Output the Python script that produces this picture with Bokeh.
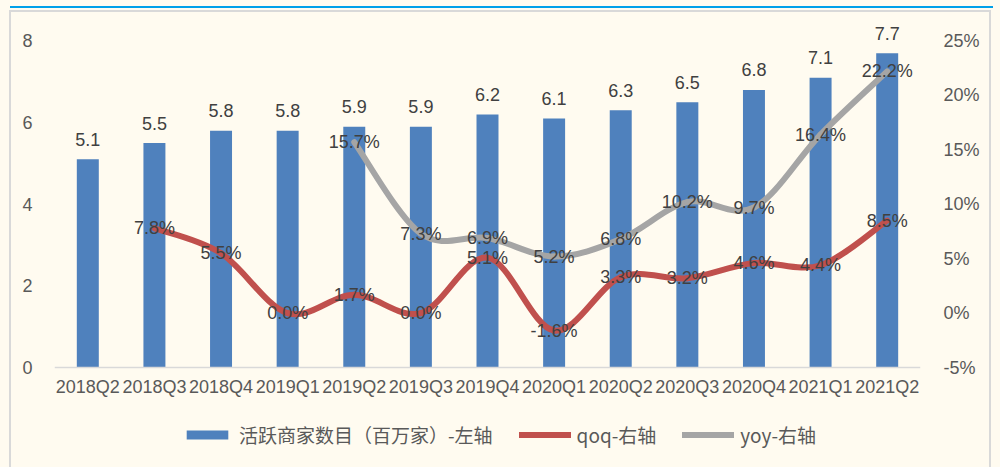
from bokeh.plotting import figure
from bokeh.models import (ColumnDataSource, Range1d, LinearAxis, FixedTicker,
                          Legend, LegendItem, PrintfTickFormatter)
from bokeh.core.properties import value
from bokeh.embed import file_html
from bokeh.resources import INLINE

# ---------------- data ----------------
quarters = ["2018Q2", "2018Q3", "2018Q4", "2019Q1", "2019Q2", "2019Q3", "2019Q4",
            "2020Q1", "2020Q2", "2020Q3", "2020Q4", "2021Q1", "2021Q2"]
merchants = [5.1, 5.5, 5.8, 5.8, 5.9, 5.9, 6.2, 6.1, 6.3, 6.5, 6.8, 7.1, 7.7]
qoq_quarters = quarters[1:]
qoq = [7.8, 5.5, 0.0, 1.7, 0.0, 5.1, -1.6, 3.3, 3.2, 4.6, 4.4, 8.5]
yoy_quarters = quarters[4:]
yoy = [15.7, 7.3, 6.9, 5.2, 6.8, 10.2, 9.7, 16.4, 22.2]
left_ticks = [0, 2, 4, 6, 8]
right_ticks = [-5, 0, 5, 10, 15, 20, 25]
legend_labels = ["活跃商家数目（百万家）-左轴", "qoq-右轴", "yoy-右轴"]

# ---------------- styles ----------------
BG = "#FFFBF0"
BLUE = "#4F81BD"
RED = "#C0504D"
GRAY = "#A5A5A5"
TXT = "#595959"
LBL = "#404040"
FONT = "Liberation Sans"

pos = {q: i for i, q in enumerate(quarters)}
bar_x = [pos[q] for q in quarters]
qoq_x = [pos[q] for q in qoq_quarters]
yoy_x = [pos[q] for q in yoy_quarters]

# vertical scale: left 0..8 maps onto right -5%..25%
left_top, left_bottom = 8.5, -2.275
k = (right_ticks[-1] - right_ticks[0]) / left_ticks[-1]
right_range = (right_ticks[0] + k * left_bottom, right_ticks[0] + k * left_top)

p = figure(width=1000, height=467, output_backend="svg", toolbar_location=None,
           x_range=Range1d(-0.5, len(quarters) - 0.5),
           y_range=Range1d(left_bottom, left_top),
           min_border_left=54, min_border_right=80, min_border_top=20,
           min_border_bottom=7,
           background_fill_color=BG, border_fill_color=BG, outline_line_color=None)
p.extra_y_ranges = {"right": Range1d(*right_range)}
p.grid.visible = False

# axes
p.xaxis.fixed_location = 0
p.xaxis.ticker = FixedTicker(ticks=bar_x)
p.xaxis.major_label_overrides = {i: q for i, q in enumerate(quarters)}
p.xaxis.axis_line_color = "#D9D9D9"
p.xaxis.axis_line_width = 1.5
p.xaxis.major_tick_line_color = None
p.xaxis.minor_tick_line_color = None
p.xaxis.major_label_standoff = 3
p.xaxis.major_label_text_font = FONT
p.xaxis.major_label_text_font_size = "18px"
p.xaxis.major_label_text_color = TXT

p.yaxis.ticker = FixedTicker(ticks=left_ticks)
p.yaxis.axis_line_color = None
p.yaxis.major_tick_line_color = None
p.yaxis.minor_tick_line_color = None
p.yaxis.major_label_standoff = 16
p.yaxis.major_label_text_font = FONT
p.yaxis.major_label_text_font_size = "18px"
p.yaxis.major_label_text_color = TXT

ry = LinearAxis(y_range_name="right", ticker=FixedTicker(ticks=right_ticks),
                formatter=PrintfTickFormatter(format="%d%%"))
ry.axis_line_color = None
ry.major_tick_line_color = None
ry.minor_tick_line_color = None
ry.major_label_standoff = 17
ry.major_label_text_font = FONT
ry.major_label_text_font_size = "18px"
ry.major_label_text_color = TXT
p.add_layout(ry, "right")

# bars
bar_src = ColumnDataSource(dict(x=bar_x, top=merchants,
                                lab=["%.1f" % v for v in merchants]))
bars = p.vbar(x="x", top="top", width=0.33, bottom=0, source=bar_src,
              fill_color=BLUE, line_color=None)


def smooth(xs, ys):
    """Excel-like smoothed line as cubic Bezier segments through the data points."""
    n = len(xs)
    d = dict(x0=[], y0=[], x1=[], y1=[], cx0=[], cy0=[], cx1=[], cy1=[])
    for i in range(n - 1):
        a = max(i - 1, 0)
        b = min(i + 2, n - 1)
        d["x0"].append(xs[i]); d["y0"].append(ys[i])
        d["x1"].append(xs[i + 1]); d["y1"].append(ys[i + 1])
        d["cx0"].append(xs[i] + (xs[i + 1] - xs[a]) / 6.0)
        d["cy0"].append(ys[i] + (ys[i + 1] - ys[a]) / 6.0)
        d["cx1"].append(xs[i + 1] - (xs[b] - xs[i]) / 6.0)
        d["cy1"].append(ys[i + 1] - (ys[b] - ys[i]) / 6.0)
    return ColumnDataSource(d)


qoq_line = p.bezier(x0="x0", y0="y0", x1="x1", y1="y1", cx0="cx0", cy0="cy0",
                    cx1="cx1", cy1="cy1", source=smooth(qoq_x, qoq),
                    y_range_name="right", line_color=RED, line_width=6,
                    line_cap="round")
yoy_line = p.bezier(x0="x0", y0="y0", x1="x1", y1="y1", cx0="cx0", cy0="cy0",
                    cx1="cx1", cy1="cy1", source=smooth(yoy_x, yoy),
                    y_range_name="right", line_color=GRAY, line_width=6,
                    line_cap="round")

# data labels
p.text(x="x", y="top", text="lab", source=bar_src, text_align="center",
       text_baseline="middle", y_offset=-20, text_font=value(FONT),
       text_font_size="18px", text_color=LBL)
p.text(x=qoq_x, y=qoq, text=["%.1f%%" % v for v in qoq], y_range_name="right",
       text_align="center", text_baseline="middle", text_font=value(FONT),
       text_font_size="18px", text_color=LBL)
p.text(x=yoy_x, y=yoy, text=["%.1f%%" % v for v in yoy], y_range_name="right",
       text_align="center", text_baseline="middle", text_font=value(FONT),
       text_font_size="18px", text_color=LBL)

legend = Legend(items=[LegendItem(label=legend_labels[0], renderers=[bars]),
                       LegendItem(label=legend_labels[1], renderers=[qoq_line]),
                       LegendItem(label=legend_labels[2], renderers=[yoy_line])],
                orientation="horizontal", location=(127, 12),
                border_line_color=None, background_fill_alpha=0,
                glyph_width=52, glyph_height=11, label_standoff=6, spacing=26,
                padding=0, margin=0,
                label_text_font="Noto Sans CJK SC", label_text_font_size="19px",
                label_text_color=TXT)
p.add_layout(legend, "center")

html = file_html(p, INLINE)
deco = ('<div style="position:absolute;left:9px;top:10px;width:978px;height:455px;'
        'border:2px solid #D9D9D9;border-bottom:none;pointer-events:none;z-index:10"></div>'
        '<div style="position:absolute;left:10px;top:6px;width:983px;height:2px;'
        'background:#00A0E9;pointer-events:none;z-index:10"></div>')
i = html.rfind("<body")
j = html.find(">", i) + 1
html = html[:i] + '<body style="background:%s;overflow:hidden">' % BG + deco + html[j:]
open("out.html", "w").write(html)
